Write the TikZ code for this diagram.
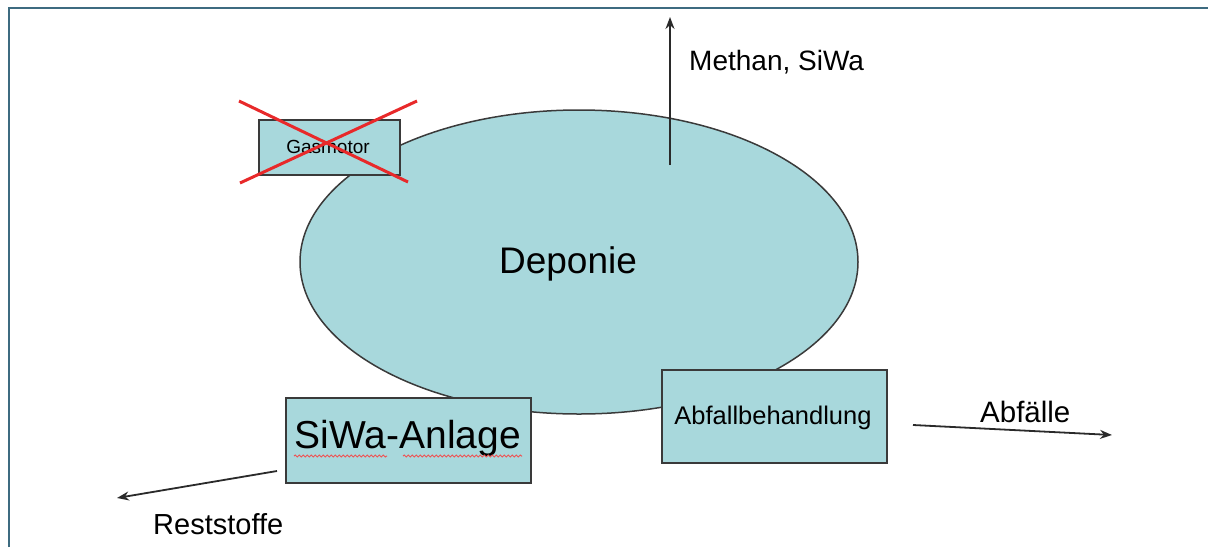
\documentclass[tikz,border=0pt]{standalone}
\usepackage{fontspec}
\setmainfont{Liberation Sans}
\usetikzlibrary{arrows.meta,decorations.pathmorphing,shapes.geometric}
\definecolor{fillc}{HTML}{A8D8DC}
\definecolor{framec}{HTML}{3D6B80}
\definecolor{edgec}{HTML}{3A3A3A}
\definecolor{crossc}{HTML}{E8292A}
\definecolor{arrc}{HTML}{2A2A2A}
\newcommand{\fs}[1]{\fontsize{#1pt}{#1pt}\selectfont}
\begin{document}
\begin{tikzpicture}[x=1pt,y=-1pt,
  boxst/.style={draw=edgec,line width=2pt,fill=fillc,inner sep=0pt,anchor=north west},
  flow/.style={draw=arrc,line width=1.8pt,-{Stealth[length=12pt,width=9pt]}},
  lbl/.style={inner sep=0pt,anchor=base west,text=black},
  crossst/.style={draw=crossc,line width=3pt},
  squig/.style={draw=crossc!80,line width=1pt,decorate,decoration={snake,amplitude=1pt,segment length=4pt}}]
\useasboundingbox (0,0) rectangle (1208,547);
% frame
\draw[framec,line width=2.5pt] (9,547) -- (9,8) -- (1208,8);
% landfill
\node[ellipse,draw=edgec,line width=1.5pt,fill=fillc,minimum width=558pt,minimum height=304pt,inner sep=0pt] (dep) at (579,262) {};
\node[lbl,anchor=base] (deplbl) at (568,273) {\fs{37}Deponie};
% Gasmotor
\node[boxst,minimum width=141pt,minimum height=55pt] (gas) at (258,119) {};
\node[lbl,anchor=base] (gaslbl) at (328,153) {\fs{19}Gasmotor};
\coordinate (c1a) at (239,101); \coordinate (c1b) at (408,182);
\coordinate (c2a) at (417,101); \coordinate (c2b) at (240,183);
\draw[crossst] (c1a) -- (c1b);
\draw[crossst] (c2a) -- (c2b);
% SiWa-Anlage
\node[boxst,minimum width=245pt,minimum height=85pt] (siwa) at (285,397) {};
\node[lbl,anchor=base] (siwalbl) at (408,448) {\fs{39}SiWa-Anlage};
\coordinate (sq1a) at (294,456); \coordinate (sq1b) at (387,456);
\coordinate (sq2a) at (403,456); \coordinate (sq2b) at (522,456);
\draw[squig] (sq1a) -- (sq1b);
\draw[squig] (sq2a) -- (sq2b);
% Abfallbehandlung
\node[boxst,minimum width=225pt,minimum height=93pt] (abf) at (661,369) {};
\node[lbl,anchor=base] (abflbl) at (773,424) {\fs{25.5}Abfallbehandlung};
% Methan arrow
\coordinate (mstart) at (670,165);
\coordinate (mend) at (670,17);
\draw[flow] (mstart) -- (mend);
\node[lbl] (mlbl) at (689,70) {\fs{28}Methan, SiWa};
% Abfaelle arrow
\coordinate (astart) at (913,425);
\coordinate (aend) at (1112,435);
\draw[flow] (astart) -- (aend);
\node[lbl] (albl) at (980,422) {\fs{29.5}Abfälle};
% Reststoffe arrow
\coordinate (rstart) at (277,471);
\coordinate (rend) at (117,498);
\draw[flow] (rstart) -- (rend);
\node[lbl] (rlbl) at (153,534) {\fs{29}Reststoffe};
\end{tikzpicture}
\end{document}
